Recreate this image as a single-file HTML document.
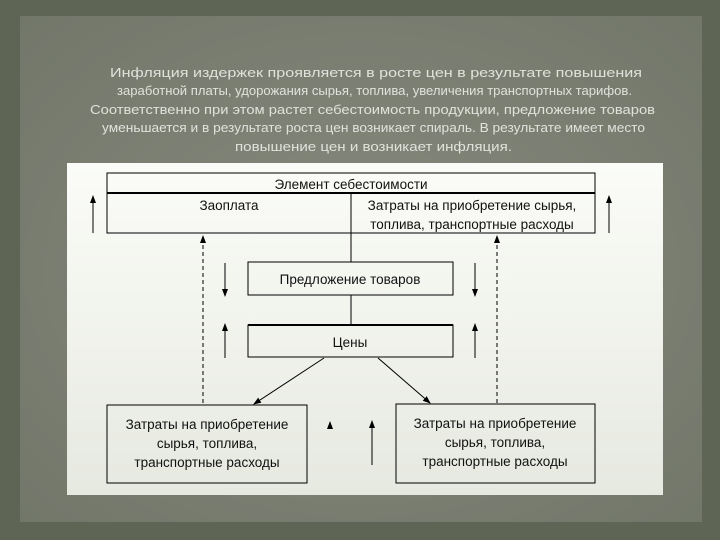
<!DOCTYPE html>
<html><head><meta charset="utf-8"><style>
body{margin:0;width:720px;height:540px;overflow:hidden;background:#5e6555;}
svg{display:block}
</style></head><body>
<svg width="720" height="540" xmlns="http://www.w3.org/2000/svg" font-family="Liberation Sans, DejaVu Sans, sans-serif">
<defs>
<radialGradient id="g" cx="50%" cy="50%" r="70%"><stop offset="0" stop-color="#868a7e"/><stop offset="1" stop-color="#72776a"/></radialGradient>
<linearGradient id="p" x1="0" y1="0" x2="0" y2="1"><stop offset="0" stop-color="#fbfcf8"/><stop offset="1" stop-color="#e6e9e0"/></linearGradient>
<marker id="a" markerWidth="8" markerHeight="8" refX="7" refY="4" orient="auto" markerUnits="userSpaceOnUse"><path d="M0,1 L8,4 L0,7 Z" fill="#000"/></marker>
</defs>
<rect x="20" y="16" width="682" height="506" fill="url(#g)"/>
<g fill="#eceee6" font-size="13" opacity="0.9" lengthAdjust="spacingAndGlyphs">
<text x="110" y="77" textLength="532" lengthAdjust="spacingAndGlyphs">Инфляция издержек проявляется в росте цен в результате повышения</text>
<text x="117" y="95" textLength="515" lengthAdjust="spacingAndGlyphs">заработной платы, удорожания сырья, топлива, увеличения транспортных тарифов.</text>
<text x="90" y="114" textLength="565" lengthAdjust="spacingAndGlyphs">Соответственно при этом растет себестоимость продукции, предложение товаров</text>
<text x="102" y="132" textLength="543" lengthAdjust="spacingAndGlyphs">уменьшается и в результате роста цен возникает спираль. В результате имеет место</text>
<text x="235" y="151" textLength="277" lengthAdjust="spacingAndGlyphs">повышение цен и возникает инфляция.</text>
</g>
<rect x="67" y="163" width="596" height="332" fill="url(#p)"/>
<g fill="none" stroke="#000" stroke-width="1">
<rect x="107" y="173" width="488" height="60"/>
<line x1="107" y1="193" x2="595" y2="193" stroke-width="2"/>
<line x1="351" y1="194" x2="351" y2="262"/>
<rect x="248" y="262" width="205" height="33"/>
<line x1="351" y1="295" x2="351" y2="325"/>
<rect x="248" y="325" width="205" height="32"/>
<line x1="248" y1="325" x2="453" y2="325" stroke-width="2"/>
<rect x="107" y="405" width="200" height="78"/>
<rect x="396" y="404" width="199" height="79"/>
<line x1="93" y1="233" x2="93" y2="196" marker-end="url(#a)"/>
<line x1="609" y1="233" x2="609" y2="196" marker-end="url(#a)"/>
<line x1="203" y1="403" x2="203" y2="236" stroke-dasharray="4,3" marker-end="url(#a)"/>
<line x1="497" y1="403" x2="497" y2="236" stroke-dasharray="4,3" marker-end="url(#a)"/>
<line x1="225" y1="263" x2="225" y2="296" marker-end="url(#a)"/>
<line x1="475" y1="263" x2="475" y2="296" marker-end="url(#a)"/>
<line x1="225" y1="358" x2="225" y2="324" marker-end="url(#a)"/>
<line x1="475" y1="358" x2="475" y2="324" marker-end="url(#a)"/>
<line x1="324" y1="358" x2="254" y2="404" marker-end="url(#a)"/>
<line x1="378" y1="358" x2="430" y2="403" marker-end="url(#a)"/>
<line x1="372" y1="465" x2="372" y2="421" marker-end="url(#a)"/>
</g>
<path d="M327,429 L330,421 L333,429Z" fill="#000"/>
<g fill="#111" font-size="13.5" text-anchor="middle">
<text x="351" y="189">Элемент себестоимости</text>
<text x="229" y="210">Заоплата</text>
<text x="472" y="210">Затраты на приобретение сырья,</text>
<text x="472" y="229">топлива, транспортные расходы</text>
<text x="350" y="284">Предложение товаров</text>
<text x="350" y="347">Цены</text>
<text x="207" y="429">Затраты на приобретение</text>
<text x="207" y="448">сырья, топлива,</text>
<text x="207" y="467">транспортные расходы</text>
<text x="495" y="428">Затраты на приобретение</text>
<text x="495" y="447">сырья, топлива,</text>
<text x="495" y="466">транспортные расходы</text>
</g>
</svg>
</body></html>
